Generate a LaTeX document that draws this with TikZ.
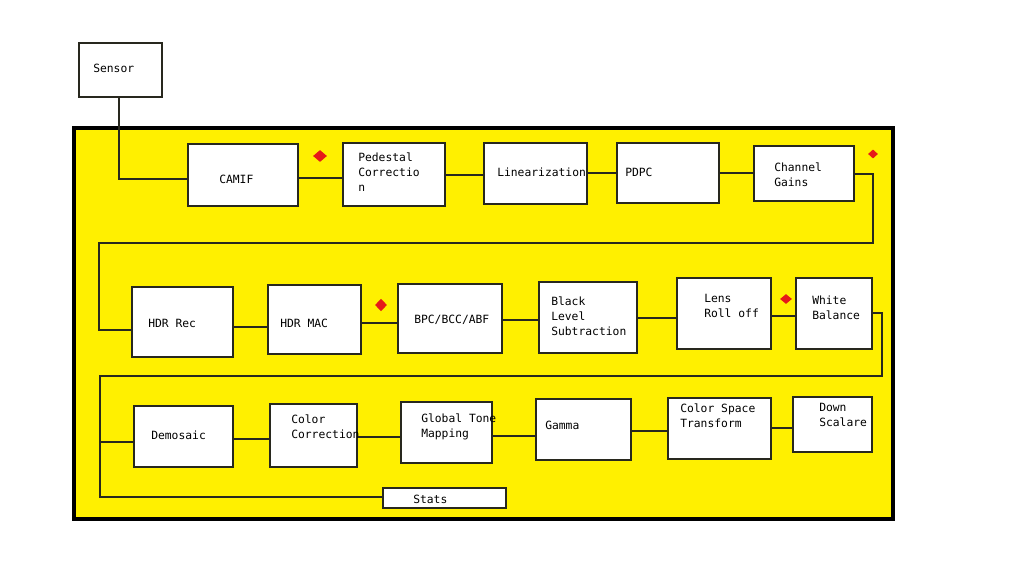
\documentclass[tikz,border=0pt]{standalone}
\usepackage{fontspec}
\setmonofont{DejaVu Sans Mono}
\usetikzlibrary{fit,shapes.geometric}
\definecolor{ylw}{RGB}{255,240,0}
\definecolor{dred}{RGB}{230,25,25}
\definecolor{edgec}{RGB}{40,40,30}
\begin{document}
\begin{tikzpicture}[x=0.75pt,y=-0.75pt,
  box/.style={draw=edgec, line width=0.8pt, fill=white, inner sep=0pt},
  lbl/.style={font=\ttfamily\fontsize{8.5}{11.25}\selectfont, inner sep=0pt, anchor=west, align=left},
  wire/.style={draw=edgec, line width=0.8pt},
  redgem/.style={diamond, fill=dred, inner sep=0pt}]
\fill[white] (0,0) rectangle (1024,580);
\useasboundingbox (0,0) rectangle (1024,580);
% frame
\node[draw=black, line width=3.4pt, fill=ylw, inner sep=0pt, fit={(74,128) (893,519)}] (frame) {};
% boxes
\node[box, fit={(79,43) (162,97)}] (sensor) {};
\node[box, fit={(188,144) (298,206)}] (camif) {};
\node[box, fit={(343,143) (445,206)}] (ped) {};
\node[box, fit={(484,143) (587,204)}] (lin) {};
\node[box, fit={(617,143) (719,203)}] (pdpc) {};
\node[box, fit={(754,146) (854,201)}] (chan) {};
\node[box, fit={(132,287) (233,357)}] (hdrrec) {};
\node[box, fit={(268,285) (361,354)}] (hdrmac) {};
\node[box, fit={(398,284) (502,353)}] (bpc) {};
\node[box, fit={(539,282) (637,353)}] (black) {};
\node[box, fit={(677,278) (771,349)}] (lens) {};
\node[box, fit={(796,278) (872,349)}] (white) {};
\node[box, fit={(134,406) (233,467)}] (demosaic) {};
\node[box, fit={(270,404) (357,467)}] (cc) {};
\node[box, fit={(401,402) (492,463)}] (gtm) {};
\node[box, fit={(536,399) (631,460)}] (gamma) {};
\node[box, fit={(668,398) (771,459)}] (cst) {};
\node[box, fit={(793,397) (872,452)}] (down) {};
\node[box, fit={(383,488) (506,508)}] (stats) {};
% labels
\node[lbl] (sensor-t) at (93,68) {Sensor};
\node[lbl] (camif-t) at (219,179) {CAMIF};
\node[lbl] (ped-t) at (358,172) {Pedestal\\Correctio\\n};
\node[lbl] (lin-t) at (497,172) {Linearization};
\node[lbl] (pdpc-t) at (625,172) {PDPC};
\node[lbl] (chan-t) at (774,174.5) {Channel\\Gains};
\node[lbl] (hdrrec-t) at (148,323) {HDR Rec};
\node[lbl] (hdrmac-t) at (280,323) {HDR MAC};
\node[lbl] (bpc-t) at (414,320) {BPC/BCC/ABF};
\node[lbl] (black-t) at (551,316) {Black\\Level\\Subtraction};
\node[lbl] (lens-t) at (704,306) {Lens\\Roll off};
\node[lbl] (white-t) at (812,307.5) {White\\Balance};
\node[lbl] (demosaic-t) at (151,435) {Demosaic};
\node[lbl] (cc-t) at (291,426.5) {Color\\Correction};
\node[lbl] (gtm-t) at (421,426.5) {Global Tone\\Mapping};
\node[lbl] (gamma-t) at (545,425) {Gamma};
\node[lbl] (cst-t) at (680,415.5) {Color Space\\Transform};
\node[lbl] (down-t) at (819,415) {Down\\Scalare};
\node[lbl] (stats-t) at (413,499) {Stats};
% wires
\draw[wire] (sensor.south -| 119,0) |- (camif.west |- 0,179);
\draw[wire] (camif.east |- 0,178) -- (ped.west |- 0,178);
\draw[wire] (ped.east |- 0,175) -- (lin.west |- 0,175);
\draw[wire] (lin.east |- 0,173) -- (pdpc.west |- 0,173);
\draw[wire] (pdpc.east |- 0,173) -- (chan.west |- 0,173);
\draw[wire] (chan.east |- 0,174) -- (873,174) -- (873,243) -- (99,243) -- (99,330) -- (hdrrec.west |- 0,330);
\draw[wire] (hdrrec.east |- 0,327) -- (hdrmac.west |- 0,327);
\draw[wire] (hdrmac.east |- 0,323) -- (bpc.west |- 0,323);
\draw[wire] (bpc.east |- 0,320) -- (black.west |- 0,320);
\draw[wire] (black.east |- 0,318) -- (lens.west |- 0,318);
\draw[wire] (lens.east |- 0,316) -- (white.west |- 0,316);
\draw[wire] (white.east |- 0,313) -- (882,313) -- (882,376) -- (100,376) -- (100,442) -- (demosaic.west |- 0,442);
\draw[wire] (100,442) |- (stats.west |- 0,497);
\draw[wire] (demosaic.east |- 0,439) -- (cc.west |- 0,439);
\draw[wire] (cc.east |- 0,437) -- (gtm.west |- 0,437);
\draw[wire] (gtm.east |- 0,436) -- (gamma.west |- 0,436);
\draw[wire] (gamma.east |- 0,431) -- (cst.west |- 0,431);
\draw[wire] (cst.east |- 0,428) -- (down.west |- 0,428);
% red diamonds
\node[redgem, minimum width=10.5pt, minimum height=9pt] (d1) at (320,156) {};
\node[redgem, minimum width=7.5pt, minimum height=6.8pt] (d2) at (873,154) {};
\node[redgem, minimum width=9pt, minimum height=9.5pt] (d3) at (381,305) {};
\node[redgem, minimum width=9pt, minimum height=7.5pt] (d4) at (786,299) {};
\end{tikzpicture}
\end{document}
